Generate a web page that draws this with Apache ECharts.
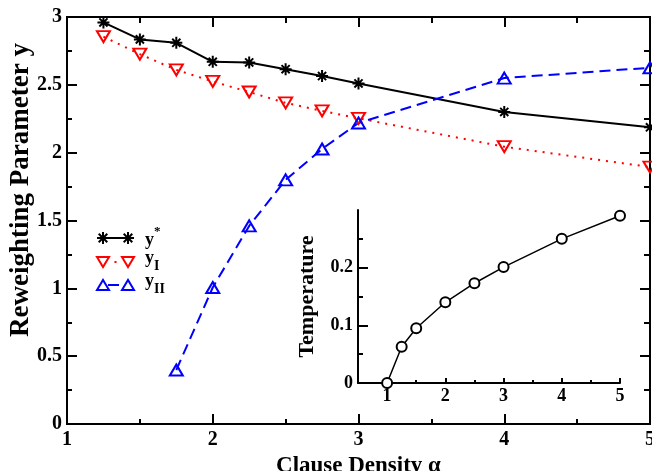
<!DOCTYPE html>
<html>
<head>
<meta charset="utf-8">
<script src="https://cdn.jsdelivr.net/npm/echarts@6/dist/echarts.min.js"></script>
<style>
html,body{margin:0;padding:0;background:#fff;}
#c{width:652px;height:471px;}
</style>
</head>
<body>
<div id="c"></div>
<script>
// ---- data ----
const alpha = [1.25, 1.5, 1.75, 2, 2.25, 2.5, 2.75, 3, 4, 5];
const yStar = [2.96, 2.835, 2.81, 2.67, 2.665, 2.615, 2.565, 2.51, 2.30, 2.187];
const yI = [2.855, 2.726, 2.61, 2.525, 2.447, 2.367, 2.308, 2.253, 2.044, 1.894];
const alphaII = [1.75, 2, 2.25, 2.5, 2.75, 3, 4, 5];
const yII = [0.398, 1.006, 1.46, 1.80, 2.027, 2.219, 2.55, 2.626];
const alphaT = [1, 1.25, 1.5, 2, 2.5, 3, 4, 5];
const temperature = [0, 0.063, 0.095, 0.14, 0.173, 0.201, 0.25, 0.29];
const mainXTicks = [1, 2, 3, 4, 5];
const mainXMinor = [1.5, 2.5, 3.5, 4.5];
const mainYTicks = [0, 0.5, 1, 1.5, 2, 2.5, 3];
const mainYMinor = [0.25, 0.75, 1.25, 1.75, 2.25, 2.75];
const insetXTicks = [1, 2, 3, 4, 5];
const insetXMinor = [1.5, 2.5, 3.5, 4.5];
const insetYTicks = [0, 0.1, 0.2];
const insetYMinor = [0.05, 0.15, 0.25];
const legendNames = ['y*', 'yI', 'yII'];

const FONT = '"Liberation Serif", "Times New Roman", serif';
const zip = (xs, ys) => xs.map((x, i) => [x, ys[i]]);
const starPath = 'path://M5,0 L5,10 M0,5 L10,5 M1.6,1.6 L8.4,8.4 M1.6,8.4 L8.4,1.6';

const labelStyle = (size) => ({color: '#000', fontFamily: FONT, fontWeight: 'bold', fontSize: size});

const chart = echarts.init(document.getElementById('c'), null, {renderer: 'canvas'});

// generic axis builder: line + inward ticks at custom values, optional labels
function axis(opt) {
  const a = {
    gridIndex: opt.grid, type: 'value', min: opt.min, max: opt.max, position: opt.position,
    axisLine: {show: !!opt.line, onZero: false, lineStyle: {color: '#000', width: 2}},
    axisTick: {show: true, inside: true, length: opt.tickLen, customValues: opt.ticks, lineStyle: {color: '#000', width: 2}},
    axisLabel: opt.labels ? Object.assign({show: true, margin: opt.margin, customValues: opt.labels}, labelStyle(opt.fontSize)) : {show: false},
    splitLine: {show: false}
  };
  if (opt.name) {
    a.name = opt.name; a.nameLocation = 'middle'; a.nameGap = opt.nameGap;
    a.nameTextStyle = labelStyle(opt.nameSize);
  }
  return a;
}

// legend key helpers (decorations, not data marks); drawn first (low z), no dash patterns
const GZ = -10;
function seg(x1, y1, x2, y2, color) {
  return {type: 'line', z: GZ, shape: {x1: x1, y1: y1, x2: x2, y2: y2}, style: {stroke: color, lineWidth: 2}};
}
function starKey(cx, cy) {
  const r = 6, d = 4.3;
  return [
    seg(cx, cy - r, cx, cy + r, '#000'), seg(cx - r, cy, cx + r, cy, '#000'),
    seg(cx - d, cy - d, cx + d, cy + d, '#000'), seg(cx - d, cy + d, cx + d, cy - d, '#000')
  ];
}
function triKey(cx, cy, down, color) {
  const pts = down ? [[cx - 6, cy - 5], [cx + 6, cy - 5], [cx, cy + 5]] : [[cx - 6, cy + 5], [cx + 6, cy + 5], [cx, cy - 5]];
  return {type: 'polygon', z: GZ, shape: {points: pts}, style: {stroke: color, lineWidth: 2, fill: 'rgba(255,255,255,0)'}};
}
function richText(x, y, main, script, isSup) {
  return {
    type: 'text', z: GZ, x: x, y: y,
    style: {
      text: '{b|' + main + '}{s|' + script + '}', verticalAlign: 'middle',
      rich: {
        b: {fontFamily: FONT, fontWeight: 'bold', fontSize: 18, fill: '#000', verticalAlign: isSup ? 'bottom' : 'top', lineHeight: 24},
        s: {fontFamily: FONT, fontWeight: 'bold', fontSize: isSup ? 13 : 14, fill: '#000', verticalAlign: isSup ? 'top' : 'bottom', lineHeight: isSup ? 20 : 24}
      }
    }
  };
}

const option = {
  animation: false,
  backgroundColor: '#fff',
  grid: [
    {left: 67, right: 2, top: 17, bottom: 47, outerBoundsMode: 'none', containLabel: false,
      show: true, borderColor: '#000', borderWidth: 2, backgroundColor: 'rgba(255,255,255,0)'},
    {left: 358, right: 32, top: 210, bottom: 88, outerBoundsMode: 'none', containLabel: false}
  ],
  xAxis: [
    axis({grid: 0, min: 1, max: 5, position: 'bottom', line: true, tickLen: 10, ticks: mainXTicks,
      labels: mainXTicks, margin: 6, fontSize: 20, name: 'Clause Density α', nameGap: 2, nameSize: 23}),
    axis({grid: 0, min: 1, max: 5, position: 'bottom', line: false, tickLen: 5, ticks: mainXMinor}),
    axis({grid: 0, min: 1, max: 5, position: 'top', line: true, tickLen: 10, ticks: mainXTicks}),
    axis({grid: 0, min: 1, max: 5, position: 'top', line: false, tickLen: 6, ticks: mainXMinor}),
    axis({grid: 1, min: 0.5, max: 5, position: 'bottom', line: true, tickLen: 5, ticks: insetXTicks,
      labels: insetXTicks, margin: 4, fontSize: 18}),
    axis({grid: 1, min: 0.5, max: 5, position: 'bottom', line: false, tickLen: 3, ticks: insetXMinor})
  ],
  yAxis: [
    axis({grid: 0, min: 0, max: 3, position: 'left', line: true, tickLen: 10, ticks: mainYTicks,
      labels: mainYTicks, margin: 5, fontSize: 20}),
    axis({grid: 0, min: 0, max: 3, position: 'left', line: false, tickLen: 5, ticks: mainYMinor}),
    axis({grid: 0, min: 0, max: 3, position: 'right', line: true, tickLen: 10, ticks: mainYTicks}),
    axis({grid: 0, min: 0, max: 3, position: 'right', line: false, tickLen: 6, ticks: mainYMinor}),
    axis({grid: 1, min: 0, max: 0.3, position: 'left', line: true, tickLen: 10, ticks: insetYTicks,
      labels: insetYTicks, margin: 5, fontSize: 18, name: 'Temperature', nameGap: 40, nameSize: 22}),
    axis({grid: 1, min: 0, max: 0.3, position: 'left', line: false, tickLen: 5, ticks: insetYMinor})
  ],
  series: [
    {
      name: legendNames[0], type: 'line', xAxisIndex: 0, yAxisIndex: 0,
      data: zip(alpha, yStar),
      symbol: starPath, symbolSize: 12,
      itemStyle: {color: '#000', borderColor: '#000', borderWidth: 2},
      lineStyle: {color: '#000', width: 2}
    },
    {
      name: legendNames[1], type: 'line', xAxisIndex: 0, yAxisIndex: 0,
      data: zip(alpha, yI),
      symbol: 'triangle', symbolRotate: 180, symbolSize: [13, 11],
      itemStyle: {color: 'rgba(255,255,255,0)', borderColor: '#ff0000', borderWidth: 2},
      lineStyle: {color: '#ff0000', width: 2, type: [2, 6]}
    },
    {
      name: legendNames[2], type: 'line', xAxisIndex: 0, yAxisIndex: 0,
      data: zip(alphaII, yII),
      symbol: 'triangle', symbolSize: [13, 11],
      itemStyle: {color: 'rgba(255,255,255,0)', borderColor: '#0000ff', borderWidth: 2},
      lineStyle: {color: '#0000ff', width: 2, type: [11, 6]}
    },
    {
      name: 'T', type: 'line', xAxisIndex: 4, yAxisIndex: 4,
      data: zip(alphaT, temperature),
      symbol: 'emptyCircle', symbolSize: 10,
      itemStyle: {color: '#000', borderColor: '#000', borderWidth: 1.5},
      lineStyle: {color: '#000', width: 1.5}
    }
  ],
  graphic: [].concat(
    [{
      type: 'text', z: GZ, x: 21, y: 190, rotation: Math.PI / 2,
      style: {text: 'Reweighting Parameter y', fontFamily: FONT, fontWeight: 'bold', fontSize: 27,
        fill: '#000', align: 'center', verticalAlign: 'middle'}
    }],
    [seg(103, 238, 128, 238, '#000')],
    starKey(103, 238), starKey(128, 238),
    [seg(114.5, 262, 116.5, 262, '#ff0000')],
    [triKey(103, 262, true, '#ff0000'), triKey(128, 262, true, '#ff0000')],
    [seg(108, 285, 119, 285, '#0000ff')],
    [triKey(103, 285, false, '#0000ff'), triKey(128, 285, false, '#0000ff')],
    [richText(145, 237, 'y', '*', true), richText(145, 261, 'y', 'I', false), richText(145, 284, 'y', 'II', false)]
  )
};
chart.setOption(option);
</script>
</body>
</html>
